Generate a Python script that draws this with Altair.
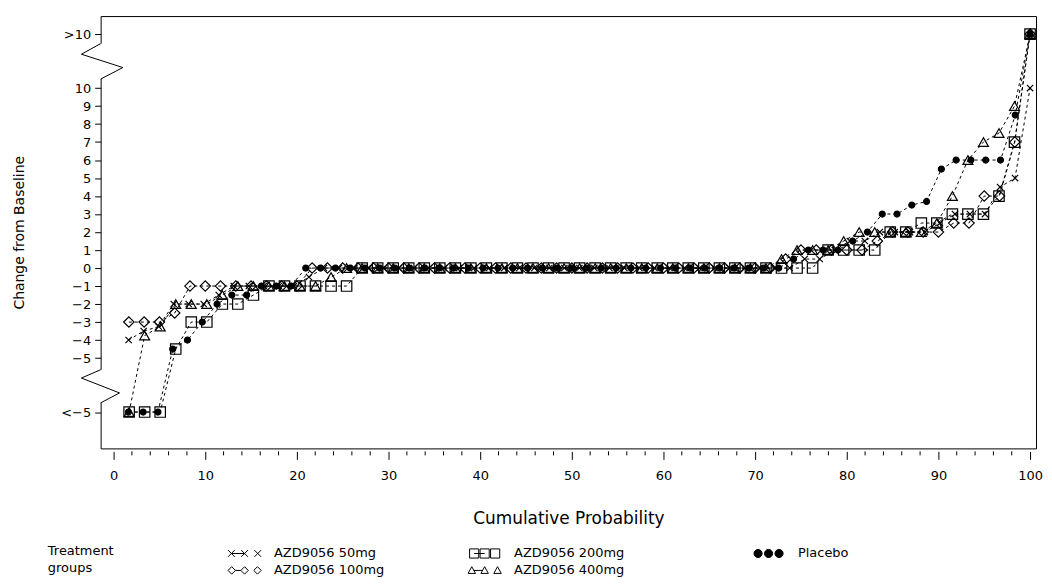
import altair as alt
import pandas as pd

FONT = "DejaVu Sans"

GROUPS = ["AZD9056 50mg", "AZD9056 200mg", "Placebo", "AZD9056 100mg", "AZD9056 400mg"]
# legend layout: the four AZD9056 groups in a 2-column block, Placebo on its own
LEGEND_A = ["AZD9056 50mg", "AZD9056 200mg", "AZD9056 100mg", "AZD9056 400mg"]
LEGEND_B = ["Placebo"]

# Sorted change-from-baseline values per treatment group.
# "<-5" and ">10" are the off-scale values shown beyond the axis breaks.
CHG_50MG = [-4, -3.5, -3.25, -2, -2, -2, -1.5, -1, -1, -1, -1, -1, -0.5,
            0, 0, 0, 0, 0, 0, 0, 0, 0, 0,
            0, 0, 0, 0, 0, 0, 0, 0, 0, 0,
            0, 0, 0, 0, 0, 0, 0, 0, 0, 0,
            0, 0,
            0.5, 0.5, 1, 1.5, 1.5, 2, 2, 2, 2, 2.5, 3, 3, 3, 4.5, 5, 10]

CHG_100MG = [-3, -3, -3, -2.5, -1, -1, -1, -1, -1, -1, -1, -1,
             0, 0, 0, 0, 0, 0, 0, 0, 0, 0,
             0, 0, 0, 0, 0, 0, 0, 0, 0, 0,
             0, 0, 0, 0, 0, 0, 0, 0, 0, 0,
             0,
             0.5, 1, 1, 1, 1, 1, 1.5, 2, 2, 2, 2, 2.5, 2.5, 4, 4, 7, ">10"]

CHG_200MG = ["<-5", "<-5", "<-5", -4.5, -3, -3, -2, -2, -1.5, -1, -1, -1, -1, -1, -1,
             0, 0, 0, 0, 0, 0, 0, 0, 0, 0,
             0, 0, 0, 0, 0, 0, 0, 0, 0, 0,
             0, 0, 0, 0, 0, 0, 0, 0, 0, 0,
             1, 1, 1, 1, 2, 2, 2.5, 2.5, 3, 3, 3, 4, 7, ">10"]

CHG_400MG = ["<-5", -3.75, -3.25, -2, -2, -2, -1.5, -1, -1, -1, -1, -1, -1, -0.5,
             0, 0, 0, 0, 0, 0, 0, 0, 0, 0,
             0, 0, 0, 0, 0, 0, 0, 0, 0, 0,
             0, 0, 0, 0, 0, 0, 0, 0,
             0.5, 1, 1, 1, 1.5, 2, 2, 2, 2, 2, 2.5, 4, 6, 7, 7.5, 9, ">10"]

CHG_PLACEBO = ["<-5", "<-5", "<-5", -4.5, -4, -3, -2, -1.5, -1.5, -1, -1, -1,
               0, 0, 0, 0, 0, 0, 0, 0, 0, 0,
               0, 0, 0, 0, 0, 0, 0, 0, 0, 0,
               0, 0, 0, 0, 0, 0, 0, 0, 0, 0,
               0, 0, 0,
               0.5, 1, 1, 1, 1.5, 2, 3, 3, 3.5, 3.7, 5.5, 6, 6, 6, 6, 8.5, ">10"]

SERIES = [CHG_50MG, CHG_200MG, CHG_PLACEBO, CHG_100MG, CHG_400MG]

# positions of the off-scale rows on the broken axis
OFFSCALE = {"<-5": -8, ">10": 13}

Y_TICKS = [-8, -5, -4, -3, -2, -1, 0, 1, 2, 3, 4, 5, 6, 7, 8, 9, 10, 13]
X_TICKS = [0, 10, 20, 30, 40, 50, 60, 70, 80, 90, 100]
X_MINOR = [2, 4, 6, 8, 12, 14, 16, 18, 22, 24, 26, 28, 32, 34, 36, 38,
           42, 44, 46, 48, 52, 54, 56, 58, 62, 64, 66, 68, 72, 74, 76, 78,
           82, 84, 86, 88, 92, 94, 96, 98]

X_DOMAIN = [-1.413, 100.652]
Y_DOMAIN = [-10.02, 14.0]

# axis-break zigzags (data units)
ZIG_X_TOP = [-1.413, -3.51, 1.01, -1.413]
ZIG_Y_TOP = [12.47, 11.88, 11.14, 10.50]
ZIG_X_BOT = [-1.413, -3.51, 0.65, -1.413]
ZIG_Y_BOT = [-5.65, -6.11, -6.94, -7.49]

W, H = 939, 434


def fmt(v):
    return f"{v:.3f}"


def legend_path(kind):
    parts = []
    if kind == "cross":
        h = 0.2
        for c in (-0.78, 0.0, 0.78):
            parts.append(f"M{fmt(c-h)},{fmt(-h)}L{fmt(c+h)},{fmt(h)}M{fmt(c-h)},{fmt(h)}L{fmt(c+h)},{fmt(-h)}")
        parts.append("M-0.78,0L0,0")
    elif kind == "diamond":
        h = 0.22
        for c in (-0.76, 0.0, 0.76):
            parts.append(f"M{fmt(c-h)},0L{fmt(c)},{fmt(-h)}L{fmt(c+h)},0L{fmt(c)},{fmt(h)}Z")
        parts.append(f"M{fmt(-0.76+h)},0L{fmt(-h)},0")
    elif kind == "triangle":
        h = 0.22
        for c in (-0.76, 0.0, 0.76):
            parts.append(f"M{fmt(c-h)},{fmt(h*0.8)}L{fmt(c)},{fmt(-h)}L{fmt(c+h)},{fmt(h*0.8)}Z")
        parts.append(f"M{fmt(-0.76+h*0.5)},0L{fmt(-h*0.5)},0")
    elif kind == "square":
        h = 0.27
        for c in (-0.62, 0.0, 0.62):
            parts.append(f"M{fmt(c-h)},{fmt(-h)}L{fmt(c+h)},{fmt(-h)}L{fmt(c+h)},{fmt(h)}L{fmt(c-h)},{fmt(h)}Z")
        parts.append("M-0.62,0L0,0")
    elif kind == "circle":
        r = 0.24
        for c in (-0.62, 0.0, 0.62):
            parts.append(f"M{fmt(c-r)},0A{r},{r} 0 1,0 {fmt(c+r)},0A{r},{r} 0 1,0 {fmt(c-r)},0Z")
    return "".join(parts)


MARK_SHAPES = ["M-1,-1L1,1M-1,1L1,-1", "square", "circle", "diamond", "triangle-up"]
MARK_FILLS = ["transparent", "transparent", "black", "transparent", "transparent"]
MARK_SIZES = [40, 110, 36, 110, 100]
LEGEND_A_SHAPES = [legend_path("cross"), legend_path("square"),
                   legend_path("diamond"), legend_path("triangle")]
LEGEND_B_SHAPES = [legend_path("circle")]

rows = []
for g, vals in zip(GROUPS, SERIES):
    for v in vals:
        rows.append({"group": g, "pos": OFFSCALE[v] if isinstance(v, str) else v})
df = pd.DataFrame(rows)

x_enc = alt.X(
    "prob:Q",
    scale=alt.Scale(domain=X_DOMAIN, nice=False, zero=False),
    axis=alt.Axis(values=X_TICKS, title="Cumulative Probability", domain=False, grid=False,
                  offset=3, tickSize=8, tickColor="black", tickWidth=1,
                  labelPadding=10, labelFontSize=13, labelFont=FONT, labelColor="black",
                  labelFlush=False, labelOverlap=False,
                  titleFontSize=17, titleFont=FONT, titleColor="black",
                  titleFontWeight="normal", titlePadding=28),
)
y_enc = alt.Y(
    "pos:Q",
    scale=alt.Scale(domain=Y_DOMAIN, nice=False, zero=False),
    axis=alt.Axis(values=Y_TICKS, title="Change from Baseline", domain=False, grid=False,
                  labelExpr="datum.value == 13 ? '>10' : datum.value == -8 ? '<\u22125' : "
                            "datum.value < 0 ? '\u2212' + abs(datum.value) : '' + datum.value",
                  tickSize=6, tickColor="black", tickWidth=1,
                  labelPadding=4, labelFontSize=13, labelFont=FONT, labelColor="black",
                  labelFlush=False, labelOverlap=False,
                  titleFontSize=14, titleFont=FONT, titleColor="black",
                  titleFontWeight="normal", titlePadding=34),
)

base = (
    alt.Chart(df)
    .transform_window(rank="row_number()", groupby=["group"], sort=[alt.SortField("pos")])
    .transform_joinaggregate(n="count()", groupby=["group"])
    .transform_calculate(prob="100 * datum.rank / datum.n")
)

lines = base.mark_line(color="black", strokeWidth=1, strokeDash=[3, 3]).encode(
    x=x_enc, y=y_enc, detail="group:N", order="prob:Q"
)

points = base.mark_point(color="black", strokeWidth=1.2, opacity=1).encode(
    x=x_enc,
    y=y_enc,
    shape=alt.Shape("group:N", scale=alt.Scale(domain=GROUPS, range=MARK_SHAPES), legend=None),
    fill=alt.Fill("group:N", scale=alt.Scale(domain=GROUPS, range=MARK_FILLS), legend=None),
    size=alt.Size("group:N", scale=alt.Scale(type="ordinal", domain=GROUPS, range=MARK_SIZES),
                  legend=None),
)

gap_df = pd.DataFrame({
    "prob": [X_DOMAIN[0], X_DOMAIN[0]],
    "pos": [ZIG_Y_TOP[0], ZIG_Y_BOT[0]],
    "pos2": [ZIG_Y_TOP[-1], ZIG_Y_BOT[-1]],
})
whiteout = alt.Chart(gap_df).mark_rule(color="white", strokeWidth=3).encode(
    x=x_enc, y=y_enc, y2="pos2:Q"
)

zig_df = pd.DataFrame({
    "prob": ZIG_X_TOP + ZIG_X_BOT,
    "pos": ZIG_Y_TOP + ZIG_Y_BOT,
    "brk": ["top"] * 4 + ["bottom"] * 4,
    "k": [0, 1, 2, 3] * 2,
})
zigzag = alt.Chart(zig_df).mark_line(color="black", strokeWidth=1).encode(
    x=x_enc, y=y_enc, detail="brk:N", order="k:Q"
)

minor = alt.Chart(pd.DataFrame({"prob": X_MINOR})).mark_rule(color="black", strokeWidth=1).encode(
    x=x_enc, y=alt.value(H + 3), y2=alt.value(H + 7)
)

LEG_COMMON = dict(
    orient="none", legendY=531, direction="horizontal", padding=0,
    labelFont=FONT, labelFontSize=13, labelColor="black", labelOffset=12, labelLimit=400,
    symbolSize=1156, symbolStrokeWidth=1, symbolStrokeColor="black", symbolOpacity=1,
    clipHeight=17, rowPadding=0,
)
LEG_A = alt.Legend(
    title=["Treatment", "groups"], legendX=-53, columns=2, columnPadding=83,
    titleOrient="left", titleAnchor="start", titleAlign="left", titleBaseline="top",
    titleLineHeight=17, titlePadding=113, titleFont=FONT, titleFontSize=13,
    titleFontWeight="normal", titleColor="black",
    **LEG_COMMON,
)
LEG_B = alt.Legend(title=None, legendX=653, columns=1, **LEG_COMMON)


def legend_layer(domain, shapes, fills, leg):
    return (
        alt.Chart(pd.DataFrame({"group": domain}))
        .transform_filter("false")
        .mark_point(color="black", strokeWidth=1, opacity=1)
        .encode(
            shape=alt.Shape("group:N", scale=alt.Scale(domain=domain, range=shapes), legend=leg),
            fill=alt.Fill("group:N", scale=alt.Scale(domain=domain, range=fills), legend=leg),
            stroke=alt.Stroke("group:N", scale=alt.Scale(domain=domain, range=["black"] * len(domain)),
                              legend=leg),
        )
    )


legend_a = legend_layer(LEGEND_A, LEGEND_A_SHAPES, ["transparent"] * 4, LEG_A)
legend_b = legend_layer(LEGEND_B, LEGEND_B_SHAPES, ["black"], LEG_B)

chart = (
    alt.layer(lines, points, whiteout, zigzag, minor, legend_a, legend_b)
    .resolve_scale(shape="independent", fill="independent", size="independent",
                   stroke="independent")
    .properties(
        width=W, height=H,
        padding={"left": 93, "top": 7, "right": 8, "bottom": 128},
        autosize=alt.AutoSizeParams(type="none"),
        background="white",
    )
    .configure_view(stroke="black", strokeWidth=1)
)

chart.save("out.html", embed_options={"renderer": "svg", "actions": False})
